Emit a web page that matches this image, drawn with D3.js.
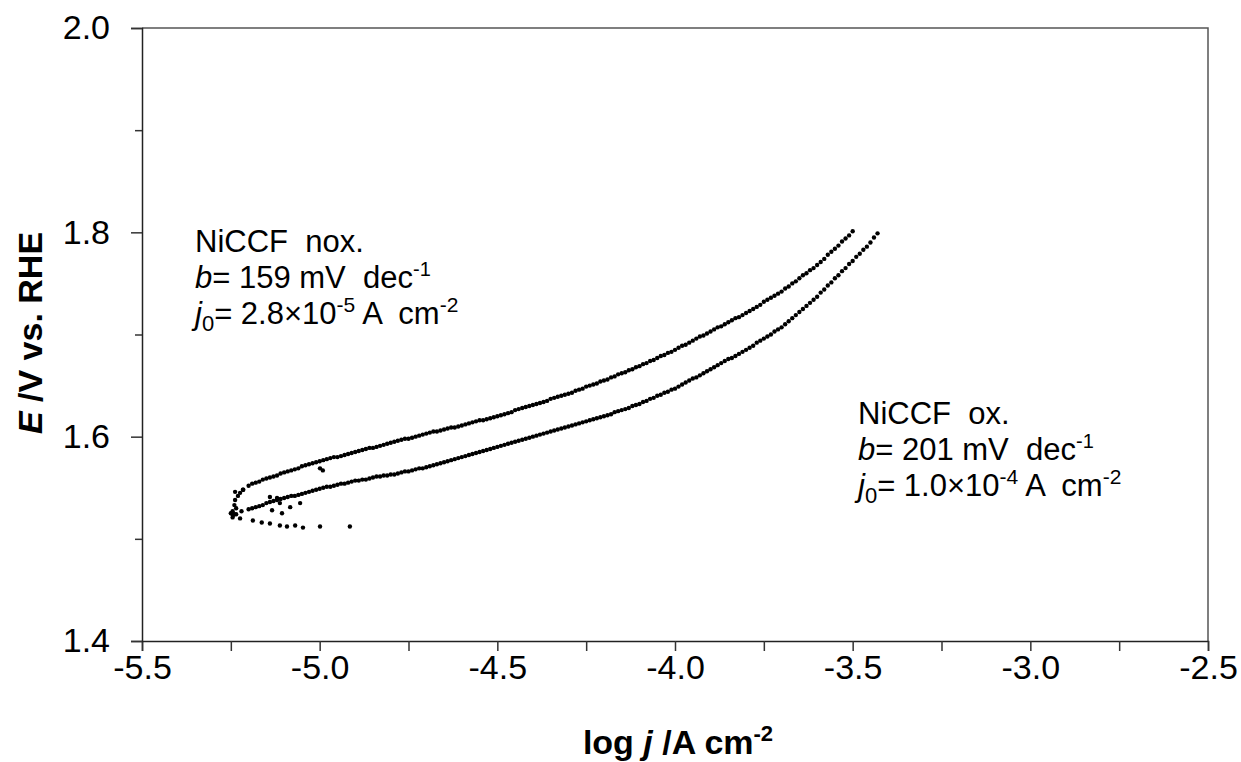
<!DOCTYPE html>
<html><head><meta charset="utf-8">
<script src="https://cdn.jsdelivr.net/npm/d3@7"></script>
<style>
body{margin:0;background:#fff}
svg{display:block}
text{font-family:"Liberation Sans",Arial,sans-serif;fill:#000;white-space:pre}
</style>
</head><body>
<svg id="chart" width="1241" height="762"></svg>
<script>
// ---------- data ----------
const xDomain = [-5.5, -2.5];
const yDomain = [1.4, 2.0];
const xMajorTicks = [-5.5, -5.0, -4.5, -4.0, -3.5, -3.0, -2.5];
const xMinorTicks = [-5.25, -4.75, -4.25, -3.75, -3.25, -2.75];
const yMajorTicks = [1.4, 1.6, 1.8, 2.0];
const yMinorTicks = [1.5, 1.7, 1.9];

// NiCCF nox. (upper branch)
const noxLogJ = [
  -5.245,-5.244,-5.240,-5.238,-5.235,-5.230,-5.224,-5.215,-5.238,-5.216,-4.999,-4.991,
  -5.20,-5.18,-5.16,-5.14,-5.12,-5.10,-5.08,-5.06,-5.04,-5.02,
  -5.00,-4.98,-4.96,-4.94,-4.92,-4.90,-4.88,-4.86,-4.84,-4.82,
  -4.80,-4.78,-4.76,-4.74,-4.72,
  -5.19,-5.17,-5.15,-5.13,-5.11,-5.09,-5.07,-5.05,-5.03,-5.01,
  -4.99,-4.97,-4.95,-4.93,-4.91,-4.89,-4.87,-4.85,-4.83,-4.81,
  -4.79,-4.77,-4.75,-4.73,-4.71,
  -4.70,-4.69,-4.68,-4.67,-4.66,-4.65,-4.64,-4.63,-4.62,-4.61,
  -4.60,-4.59,-4.58,-4.57,-4.56,-4.55,-4.54,-4.53,-4.52,-4.51,
  -4.50,-4.49,-4.48,-4.47,-4.46,-4.45,-4.44,-4.43,-4.42,-4.41,
  -4.40,-4.39,-4.38,-4.37,-4.36,-4.35,-4.34,-4.33,-4.32,-4.31,
  -4.30,-4.29,-4.28,-4.27,-4.26,-4.25,-4.24,-4.23,-4.22,-4.21,
  -4.20,-4.19,-4.18,-4.17,-4.16,-4.15,-4.14,-4.13,-4.12,-4.11,
  -4.10,-4.09,-4.08,-4.07,-4.06,-4.05,-4.04,-4.03,-4.02,-4.01,
  -4.00,-3.99,-3.98,-3.97,-3.96,-3.95,-3.94,-3.93,-3.92,-3.91,
  -3.90,-3.89,-3.88,-3.87,-3.86,-3.85,-3.84,-3.83,-3.82,-3.81,
  -3.80,-3.79,-3.78,-3.77,-3.76,-3.75,-3.74,-3.73,-3.72,-3.71,
  -3.70,-3.69,-3.68,-3.67,-3.66,-3.65,-3.64,-3.63,-3.62,-3.61,
  -3.60,-3.59,-3.58,-3.57,-3.56,-3.55,-3.54,-3.53,-3.52,-3.51,
  -3.50
];
const noxE = [
  1.527,1.523,1.533,1.538,1.530,1.542,1.545,1.548,1.546,1.548,1.569,1.567,
  1.552,1.555,1.558,1.560,1.562,1.565,1.567,1.569,1.572,1.574,
  1.576,1.578,1.580,1.581,1.583,1.585,1.587,1.589,1.590,1.592,
  1.594,1.596,1.598,1.599,1.601,
  1.554,1.556,1.559,1.561,1.564,1.566,1.568,1.571,1.573,1.575,
  1.577,1.579,1.580,1.582,1.584,1.586,1.588,1.589,1.591,1.593,
  1.595,1.597,1.598,1.600,1.602,
  1.603,1.604,1.605,1.605,1.606,1.607,1.608,1.609,1.609,1.610,
  1.611,1.612,1.613,1.614,1.615,1.616,1.616,1.617,1.618,1.619,
  1.620,1.621,1.622,1.623,1.624,1.626,1.627,1.628,1.629,1.630,
  1.631,1.632,1.633,1.634,1.635,1.637,1.638,1.639,1.640,1.641,
  1.642,1.643,1.645,1.646,1.647,1.649,1.650,1.651,1.652,1.654,
  1.655,1.656,1.658,1.659,1.661,1.662,1.663,1.665,1.666,1.668,
  1.669,1.671,1.672,1.674,1.675,1.677,1.679,1.680,1.682,1.683,
  1.685,1.687,1.689,1.690,1.692,1.694,1.696,1.698,1.699,1.701,
  1.703,1.705,1.707,1.708,1.710,1.712,1.714,1.716,1.717,1.719,
  1.721,1.723,1.725,1.727,1.729,1.732,1.734,1.736,1.738,1.740,
  1.742,1.745,1.747,1.750,1.752,1.755,1.758,1.760,1.763,1.765,
  1.768,1.771,1.774,1.778,1.781,1.784,1.787,1.791,1.794,1.797,
  1.801
];

// NiCCF ox. (lower branch)
const oxLogJ = [
  -5.250,-5.245,-5.240,-5.235,-5.224,-5.188,-5.163,-5.140,-5.112,-5.092,-5.069,-5.047,-4.999,-4.915,
  -5.140,-5.120,-5.112,-5.083,-5.055,-5.106,-5.134,-5.22,
  -5.20,-5.18,-5.16,-5.14,-5.12,-5.10,-5.08,-5.06,-5.04,-5.02,
  -5.00,-4.98,-4.96,-4.94,-4.92,-4.90,-4.88,-4.86,-4.84,-4.82,
  -4.80,-4.78,-4.76,-4.74,-4.72,
  -5.19,-5.17,-5.15,-5.13,-5.11,-5.09,-5.07,-5.05,-5.03,-5.01,
  -4.99,-4.97,-4.95,-4.93,-4.91,-4.89,-4.87,-4.85,-4.83,-4.81,
  -4.79,-4.77,-4.75,-4.73,-4.71,
  -4.70,-4.69,-4.68,-4.67,-4.66,-4.65,-4.64,-4.63,-4.62,-4.61,
  -4.60,-4.59,-4.58,-4.57,-4.56,-4.55,-4.54,-4.53,-4.52,-4.51,
  -4.50,-4.49,-4.48,-4.47,-4.46,-4.45,-4.44,-4.43,-4.42,-4.41,
  -4.40,-4.39,-4.38,-4.37,-4.36,-4.35,-4.34,-4.33,-4.32,-4.31,
  -4.30,-4.29,-4.28,-4.27,-4.26,-4.25,-4.24,-4.23,-4.22,-4.21,
  -4.20,-4.19,-4.18,-4.17,-4.16,-4.15,-4.14,-4.13,-4.12,-4.11,
  -4.10,-4.09,-4.08,-4.07,-4.06,-4.05,-4.04,-4.03,-4.02,-4.01,
  -4.00,-3.99,-3.98,-3.97,-3.96,-3.95,-3.94,-3.93,-3.92,-3.91,
  -3.90,-3.89,-3.88,-3.87,-3.86,-3.85,-3.84,-3.83,-3.82,-3.81,
  -3.80,-3.79,-3.78,-3.77,-3.76,-3.75,-3.74,-3.73,-3.72,-3.71,
  -3.70,-3.69,-3.68,-3.67,-3.66,-3.65,-3.64,-3.63,-3.62,-3.61,
  -3.60,-3.59,-3.58,-3.57,-3.56,-3.55,-3.54,-3.53,-3.52,-3.51,
  -3.50,-3.49,-3.48,-3.47,-3.46,-3.45,-3.44,-3.43
];
const oxE = [
  1.525,1.521,1.524,1.524,1.520,1.518,1.516,1.515,1.513,1.512,1.513,1.511,1.512,1.512,
  1.541,1.540,1.535,1.531,1.535,1.525,1.528,1.527,
  1.529,1.531,1.533,1.536,1.538,1.540,1.542,1.543,1.545,1.547,
  1.549,1.551,1.552,1.554,1.555,1.557,1.558,1.559,1.561,1.562,
  1.563,1.564,1.566,1.567,1.569,
  1.530,1.532,1.535,1.537,1.539,1.541,1.542,1.544,1.546,1.548,
  1.550,1.551,1.553,1.554,1.556,1.557,1.558,1.560,1.561,1.562,
  1.563,1.565,1.566,1.568,1.569,
  1.570,1.571,1.572,1.573,1.574,1.575,1.576,1.577,1.578,1.579,
  1.580,1.581,1.582,1.583,1.584,1.585,1.586,1.587,1.588,1.589,
  1.590,1.591,1.592,1.593,1.594,1.595,1.596,1.597,1.598,1.599,
  1.600,1.601,1.602,1.603,1.604,1.605,1.606,1.607,1.608,1.609,
  1.610,1.611,1.612,1.613,1.614,1.615,1.616,1.617,1.618,1.619,
  1.620,1.621,1.622,1.624,1.625,1.626,1.627,1.628,1.630,1.631,
  1.632,1.634,1.635,1.637,1.638,1.640,1.641,1.643,1.644,1.646,
  1.647,1.649,1.651,1.653,1.655,1.657,1.658,1.660,1.662,1.664,
  1.666,1.668,1.670,1.672,1.674,1.676,1.677,1.679,1.681,1.683,
  1.685,1.687,1.689,1.692,1.694,1.696,1.698,1.700,1.703,1.705,
  1.707,1.710,1.713,1.716,1.719,1.722,1.725,1.728,1.731,1.734,
  1.737,1.741,1.744,1.748,1.751,1.755,1.758,1.762,1.765,1.769,
  1.772,1.776,1.779,1.783,1.786,1.790,1.795,1.799
];

// ---------- layout ----------
const svg = d3.select("#chart");
const L = 142, R = 1208, T = 28, B = 641;
const x = d3.scaleLinear().domain(xDomain).range([L, R]);
const y = d3.scaleLinear().domain(yDomain).range([B, T]);
const fmt = v => d3.format(".1f")(v).replace("\u2212", "-");

// frame (top / right)
svg.append("path")
  .attr("d", `M${L},${T}H${R}V${B}`)
  .attr("fill", "none").attr("stroke", "#555").attr("stroke-width", 1.5);

// X axis
const gx = svg.append("g").attr("transform", `translate(0,${B})`)
  .call(d3.axisBottom(x)
    .tickValues(xMajorTicks.concat(xMinorTicks))
    .tickSize(10).tickPadding(4)
    .tickFormat(v => xMajorTicks.includes(v) ? fmt(v) : ""));
gx.select(".domain").attr("stroke", "#222").attr("stroke-width", 1.5);
gx.selectAll(".tick line").attr("stroke", "#333").attr("stroke-width", 1.5);
gx.selectAll(".tick text").attr("font-size", 34).attr("font-family", '"Liberation Sans",Arial,sans-serif').attr("fill", "#000");

// Y axis (major + minor)
const gy = svg.append("g").attr("transform", `translate(${L},0)`)
  .call(d3.axisLeft(y).tickValues(yMajorTicks).tickSize(11).tickPadding(21).tickFormat(fmt));
gy.select(".domain").attr("stroke", "#222").attr("stroke-width", 1.5);
gy.selectAll(".tick line").attr("stroke", "#333").attr("stroke-width", 1.5);
gy.selectAll(".tick text").attr("font-size", 34).attr("font-family", '"Liberation Sans",Arial,sans-serif').attr("fill", "#000");
const gy2 = svg.append("g").attr("transform", `translate(${L},0)`)
  .call(d3.axisLeft(y).tickValues(yMinorTicks).tickSize(7).tickFormat(""));
gy2.select(".domain").remove();
gy2.selectAll(".tick line").attr("stroke", "#333").attr("stroke-width", 1.5);

// data points
function drawSeries(xs, ys) {
  svg.append("g").selectAll("circle")
    .data(xs.map((v, i) => [v, ys[i]]))
    .join("circle")
    .attr("cx", d => x(d[0])).attr("cy", d => y(d[1]))
    .attr("r", 2.2).attr("fill", "#000");
}
drawSeries(noxLogJ, noxE);
drawSeries(oxLogJ, oxE);

// axis titles
const xt = svg.append("text").attr("x", 678).attr("y", 754)
  .attr("text-anchor", "middle").attr("font-size", 34).attr("font-weight", "bold");
xt.append("tspan").text("log ");
xt.append("tspan").attr("font-style", "italic").text("j");
xt.append("tspan").text(" /A cm");
xt.append("tspan").attr("font-size", 22).attr("dy", -13).text("-2");

const yt = svg.append("text").attr("transform", "translate(42,333) rotate(-90)")
  .attr("text-anchor", "middle").attr("font-size", 34).attr("font-weight", "bold");
yt.append("tspan").attr("font-style", "italic").text("E");
yt.append("tspan").text(" /V vs. RHE");

// annotations
function annot(x0, y0, name, bval, jmant, jexp) {
  const g = svg.append("g");
  g.append("text").attr("x", x0).attr("y", y0).attr("font-size", 31).text(name);
  const t2 = g.append("text").attr("x", x0).attr("y", y0 + 36).attr("font-size", 31);
  t2.append("tspan").attr("font-style", "italic").text("b");
  t2.append("tspan").text("= " + bval + " mV  dec");
  t2.append("tspan").attr("font-size", 20).attr("dy", -12).text("-1");
  const t3 = g.append("text").attr("x", x0).attr("y", y0 + 72).attr("font-size", 31);
  t3.append("tspan").attr("font-style", "italic").text("j");
  t3.append("tspan").attr("font-size", 22).attr("dy", 7).text("0");
  t3.append("tspan").attr("dy", -7).text("= " + jmant + "\u00d710");
  t3.append("tspan").attr("font-size", 21).attr("dy", -12).text(jexp);
  t3.append("tspan").attr("dy", 12).text(" A  cm");
  t3.append("tspan").attr("font-size", 21).attr("dy", -12).text("-2");
}
annot(195, 252, "NiCCF  nox.", "159", "2.8", "-5");
annot(858, 424, "NiCCF  ox.", "201", "1.0", "-4");
</script>
</body></html>
